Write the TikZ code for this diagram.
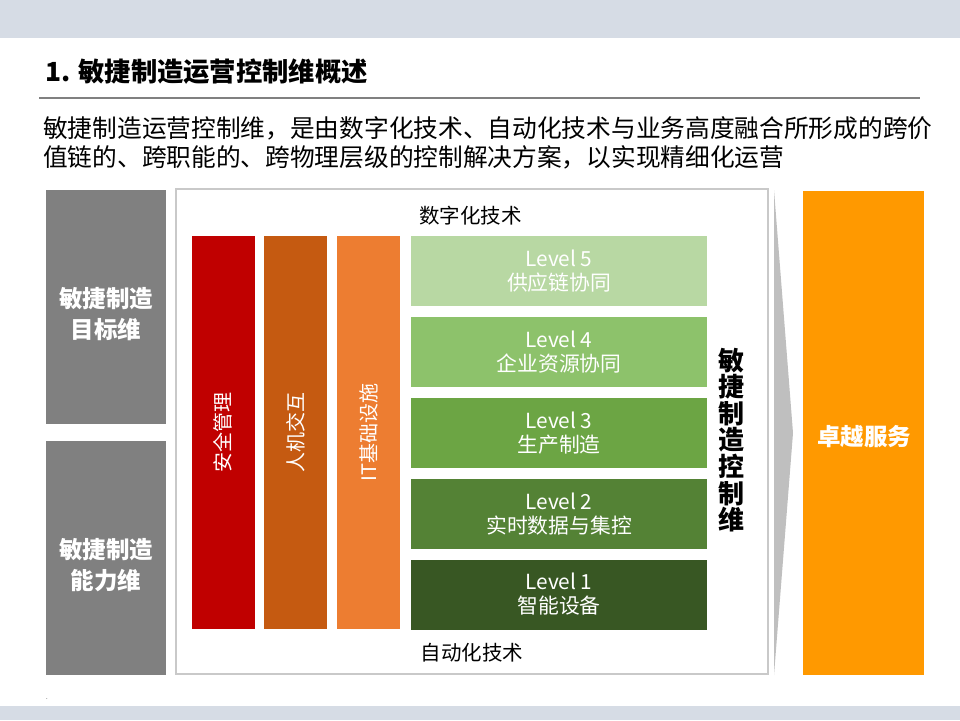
\documentclass[tikz,border=0pt]{standalone}
\usepackage{fontspec}
\setmainfont{Noto Sans CJK SC}
\usepackage{tikz}
\usetikzlibrary{positioning}
\definecolor{bandgray}{HTML}{D6DCE5}
\definecolor{dimgray}{HTML}{808080}
\definecolor{framegray}{HTML}{C9C9C9}
\definecolor{chevgray}{HTML}{BFBFBF}
\definecolor{barred}{HTML}{C00000}
\definecolor{barbrown}{HTML}{C55A11}
\definecolor{barorange}{HTML}{ED7D31}
\definecolor{lvA}{HTML}{B8D8A3}
\definecolor{lvB}{HTML}{8DC26B}
\definecolor{lvC}{HTML}{6CA544}
\definecolor{lvD}{HTML}{548235}
\definecolor{lvE}{HTML}{385723}
\definecolor{srvorange}{HTML}{FF9900}
\newcommand\fsz[2]{\fontsize{#1}{#2}\selectfont}
\tikzset{
  band/.style={fill=bandgray},
  rule/.style={draw=dimgray,line width=2pt},
  gbox/.style={fill=dimgray,minimum width=120,minimum height=234,inner sep=0},
  glab/.style={text=white,align=center,font=\fsz{23.5}{31}\bfseries},
  panel/.style={draw=framegray,line width=2.5pt,fill=white,inner sep=0},
  bar/.style={minimum width=63,minimum height=393,inner sep=0},
  barlab/.style={rotate=90,text=white,font=\fsz{20}{24}},
  lvl/.style={minimum width=296,minimum height=70,inner sep=0,text=white,
    align=center,font=\fsz{20.8}{24}},
  tech/.style={font=\fsz{20.5}{24}},
}

\begin{document}
\begin{tikzpicture}[x=1pt,y=-1pt]
  \useasboundingbox (0,0) rectangle (960,720);
  % bands
  \fill[band] (0,0) rectangle (960,38);
  \fill[band] (0,706) rectangle (960,720);
  \node[font=\fsz{6}{7}] (dot) at (47,699) {.};
  % heading
  \node[anchor=west,inner sep=0,font=\fsz{26.3}{30}\bfseries] (title) at (45,72)
    {1. 敏捷制造运营控制维概述};
  \draw[rule] (39,97.5) -- (920,97.5);
  \node[anchor=west,inner sep=0,align=left,font=\fsz{24.7}{29}] (intro) at (43,142.5)
    {敏捷制造运营控制维，是由数字化技术、自动化技术与业务高度融合所形成的跨价\\
     值链的、跨职能的、跨物理层级的控制解决方案，以实现精细化运营};
  % left column
  \node[gbox] (goal) at (106,307) {};
  \node[glab] at (106,314.5) {敏捷制造\\目标维};
  \node[gbox] (ability) at (106,558) {};
  \node[glab] at (106,565) {敏捷制造\\能力维};
  % middle panel
  \node[panel,minimum width=592,minimum height=485] (frame) at (472,431.5) {};
  \fill[chevgray] (774,190) -- (793,433) -- (774,675) -- cycle;
  \node[tech] (digital) at (470.5,216) {数字化技术};
  \node[tech] (auto) at (472,653) {自动化技术};
  \foreach \nm/\x/\c/\t in {safety/223/barred/安全管理,
      hmi/295.5/barbrown/人机交互, infra/368.5/barorange/IT基础设施} {
    \node[bar,fill=\c] (\nm) at (\x,432.5) {};
    \node[barlab] at (\nm) {\t};
  }
  \foreach \n/\y/\c/\t in {5/271/lvA/供应链协同, 4/352/lvB/企业资源协同,
      3/433/lvC/生产制造, 2/514/lvD/实时数据与集控, 1/594.5/lvE/智能设备}
    \node[lvl,fill=\c] (level\n) at (559,\y) {Level \n\\\t};
  \node[align=center,inner sep=0,font=\fsz{26}{26.6}\bfseries] (ctrl) at (731,440)
    {敏\\捷\\制\\造\\控\\制\\维};
  % right column
  \node[fill=srvorange,minimum width=121,minimum height=484,inner sep=0] (service)
    at (863.5,433) {};
  \node[text=white,font=\fsz{23.5}{28}\bfseries] at (864,437) {卓越服务};
\end{tikzpicture}
\end{document}
